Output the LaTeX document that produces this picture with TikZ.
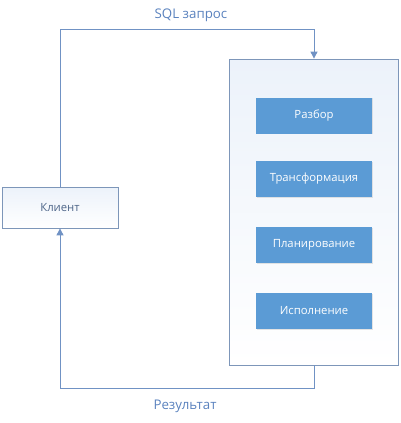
\documentclass[tikz,border=0pt]{standalone}
\usepackage{fontspec}
\setmainfont{Open Sans}
\usetikzlibrary{arrows.meta,shadows}
\definecolor{linec}{RGB}{112,146,196}
\definecolor{boxc}{RGB}{91,155,213}
\definecolor{framec}{RGB}{125,150,185}
\definecolor{labc}{RGB}{90,130,190}
\definecolor{paleb}{RGB}{236,242,250}
\tikzset{
  stage/.style={draw=none,fill=boxc,minimum width=116pt,minimum height=36pt,
    text=white,font=\fontsize{11.3}{13}\selectfont,inner sep=0pt,
    drop shadow={shadow xshift=0.8pt,shadow yshift=-0.8pt,opacity=0.25,fill=black!40}},
  frame/.style={draw=framec,line width=0.8pt,top color=paleb,bottom color=white,inner sep=0pt},
  conn/.style={draw=linec,line width=0.9pt,-{Triangle[length=7pt,width=7pt]}},
  lab/.style={text=labc,font=\fontsize{13.3}{15}\selectfont}
}
\begin{document}
\begin{tikzpicture}[x=1pt,y=-1pt]
\useasboundingbox (0,0) rectangle (400,423);
\node[frame,minimum width=169pt,minimum height=306pt] (srv) at (313.5,212) {};
\node[frame,minimum width=116pt,minimum height=41pt,text=linec!70!black,font=\fontsize{11.3}{13}\selectfont] (cl) at (60,207.5) {Клиент};
\node[stage] (s1) at (314,115.5) {Разбор};
\node[stage] (s2) at (314,179) {Трансформация};
\node[stage] (s3) at (314,245) {Планирование};
\node[stage] (s4) at (314,311) {Исполнение};
\coordinate (tl) at (60,29);
\coordinate (tr) at (314,29);
\coordinate (bl) at (60,388);
\coordinate (br) at (314,388);
\draw[conn] (cl.north) -- (tl) -- (tr) -- (srv.north -| tr);
\draw[conn] (srv.south -| br) -- (br) -- (bl) -- (cl.south);
\node[lab] (q) at (191,15) {SQL запрос};
\node[lab] (r) at (185,406) {Результат};
\end{tikzpicture}
\end{document}
